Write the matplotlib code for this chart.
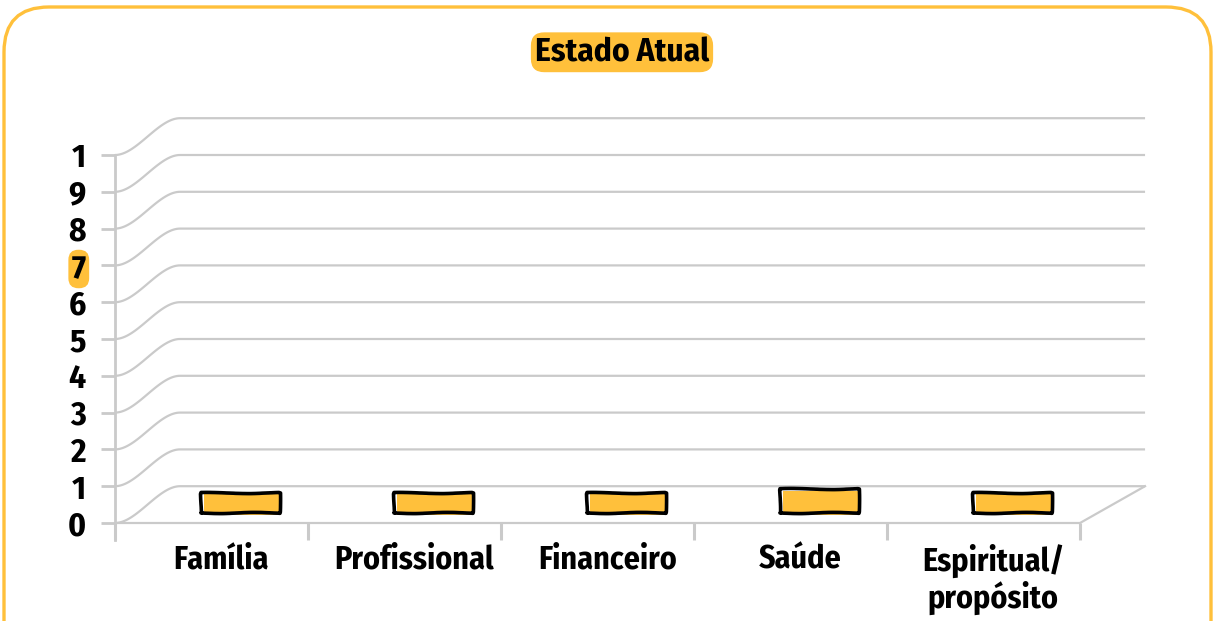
import matplotlib
matplotlib.use("Agg")
import matplotlib.pyplot as plt
from matplotlib import font_manager
from matplotlib.patches import FancyBboxPatch
import numpy as np

categories = ["Família", "Profissional", "Financeiro", "Saúde", "Espiritual/\npropósito"]
values = [0.55, 0.55, 0.55, 0.65, 0.55]
y_ticks = list(range(0, 11))
y_tick_labels = ["0", "1", "2", "3", "4", "5", "6", "7", "8", "9", "1"]
title = "Estado Atual"

ORANGE = "#FFC03B"
GRID = "#CACACA"

avail = {f.name for f in font_manager.fontManager.ttflist}
cands = ["Fira Sans Condensed", "Roboto Condensed", "Liberation Sans Narrow", "Lato"]
FONT = next(c for c in cands if c in avail)
k = 1.0 if FONT != "Lato" else 0.8

W, H = 1215, 621
fig = plt.figure(figsize=(W / 100, H / 100), dpi=100)

# background frame
bg = fig.add_axes([0, 0, 1, 1])
bg.set_xlim(0, W)
bg.set_ylim(H, 0)
bg.axis("off")
bg.add_patch(FancyBboxPatch((4, 7), W - 8, 700, boxstyle="round,pad=0,rounding_size=45",
                            fc="white", ec=ORANGE, lw=2.4))

ax = fig.add_axes([115 / W, 98 / H, 965 / W, 368 / H])
ax.patch.set_alpha(0)
ax.set_xlim(-0.5, 4.5)
ax.set_ylim(0, 10)
for s in ax.spines.values():
    s.set_visible(False)

dx, dy = 0.337, 1.0
x0, x1 = -0.5, len(categories) - 0.5
t = np.linspace(0, 1, 40)
sm = 3 * t ** 2 - 2 * t ** 3
for v in y_ticks:
    xs = np.concatenate([x0 + dx * t, [x1 + dx]])
    ys = np.concatenate([v + dy * sm, [v + dy]])
    ax.plot(xs, ys, color=GRID, lw=1.6, clip_on=False, zorder=1, solid_capstyle="butt")
# floor
ax.plot([x0, x1, x1 + dx], [0, 0, dy], color=GRID, lw=1.6, clip_on=False, zorder=1)
# vertical axis
ax.plot([x0, x0], [-0.47, 10], color=GRID, lw=2.0, clip_on=False, zorder=1)

# bars
xpos = np.arange(len(categories))
fill = ax.bar(xpos + 0.16, values, width=0.40, bottom=0.23, color=ORANGE, edgecolor="none", zorder=3)
outl = ax.bar(xpos + 0.15, values, width=0.41, bottom=0.27, facecolor="none", edgecolor="black",
              lw=2.6, zorder=4)
for p in outl:
    p.set_sketch_params(scale=0.6, length=80, randomness=2)
    p.set_joinstyle("round")

# y ticks
ax.set_yticks(y_ticks)
ax.set_yticklabels(y_tick_labels)
ax.tick_params(axis="y", length=10, width=2.0, color=GRID, pad=11, labelsize=24 * k)
for lab in ax.get_yticklabels():
    lab.set_fontfamily(FONT)
    lab.set_fontweight("bold")
ax.get_yticklabels()[7].set_bbox(dict(boxstyle="round,pad=0.1,rounding_size=0.3", fc=ORANGE, ec="none"))

# x ticks
ax.set_xticks(np.arange(-0.5, len(categories), 1.0), minor=True)
ax.set_xticks(xpos + 0.05)
ax.set_xticklabels(categories, linespacing=1.1)
ax.tick_params(axis="x", which="minor", length=12, width=2.2, color=GRID, direction="out")
ax.tick_params(axis="x", which="major", length=0, pad=15, labelsize=23 * k)
for lab in ax.get_xticklabels():
    lab.set_fontfamily(FONT)
    lab.set_fontweight("bold")

fig.text(622 / W, 1 - 61 / H, title, ha="center", va="baseline", fontsize=24 * k,
         fontfamily=FONT, fontweight="bold",
         bbox=dict(boxstyle="round,pad=0.12,rounding_size=0.4", fc=ORANGE, ec="none"))

fig.savefig("out.png", dpi=100)
